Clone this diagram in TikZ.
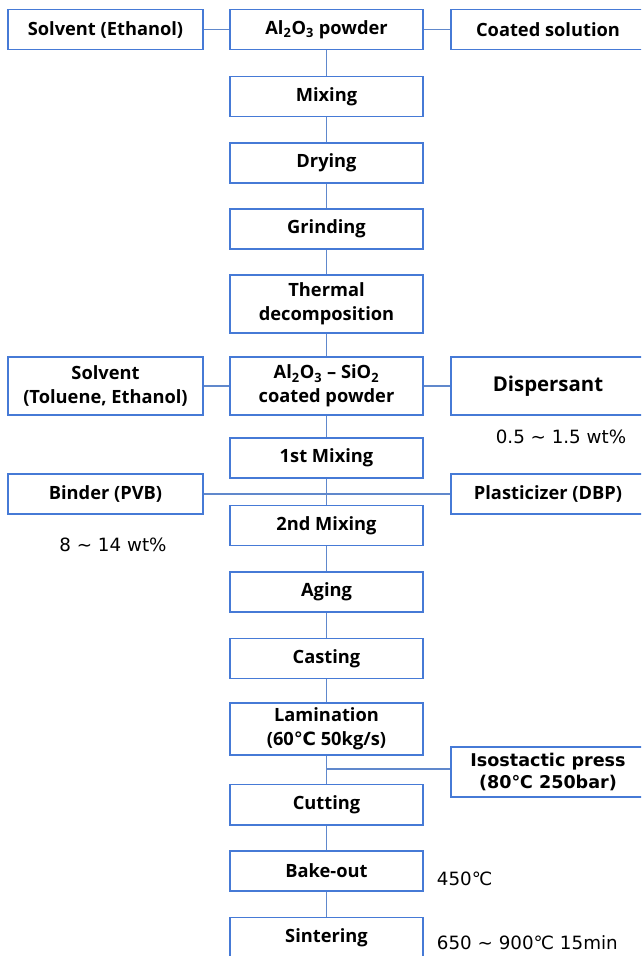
\documentclass[tikz,border=0pt]{standalone}
\usepackage{fontspec}
\setmainfont{Open Sans}
\newfontfamily\notefont{DejaVu Sans}
\usepackage{tikz}

\definecolor{boxblue}{RGB}{70,122,214}
\definecolor{lineblue}{RGB}{96,136,204}
\newcommand{\dgc}{{\notefont ℃}}

\begin{document}
\begin{tikzpicture}
  [ x=0.025cm, y=-0.025cm
  , stage/.style={rectangle, draw=boxblue, line width=1.4pt, minimum width=4.8cm, minimum height=1cm, align=center, font=\bfseries\fontsize{13}{17}\selectfont}
  , feed/.style={stage, minimum width=4.85cm}
  , tall/.style={minimum height=1.45cm}
  , note/.style={font=\notefont\fontsize{13}{15}\selectfont}
  , link/.style={draw=lineblue, line width=0.8pt}]
  \path [use as bounding box, clip] (0,0) rectangle (641,956);
  \node (0) at (105.5, 29.5) [feed] {Solvent (Ethanol)};
  \node (1) at (326.5, 29.5) [stage] {Al\textsubscript{2}O\textsubscript{3} powder};
  \node (2) at (548, 29.5) [feed] {Coated solution};
  \node (3) at (326.5, 96.5) [stage] {Mixing};
  \node (4) at (326.5, 163) [stage] {Drying};
  \node (5) at (326.5, 229) [stage] {Grinding};
  \node (6) at (326.5, 304) [stage, tall] {Thermal\\decomposition};
  \node (7) at (326.5, 386) [stage, tall] {Al\textsubscript{2}O\textsubscript{3} -- SiO\textsubscript{2}\\coated powder};
  \node (8) at (105.5, 386) [feed, tall] {Solvent\\(Toluene, Ethanol)};
  \node (9) at (548, 386) [feed, tall, font=\bfseries\fontsize{14.5}{17}\selectfont] {Dispersant};
  \node (10) at (326.5, 458) [stage] {1st Mixing};
  \node (11) at (105.5, 494) [feed] {Binder (PVB)};
  \node (12) at (548, 494) [feed] {Plasticizer (DBP)};
  \node (13) at (326.5, 525.5) [stage] {2nd Mixing};
  \node (14) at (326.5, 592) [stage] {Aging};
  \node (15) at (326.5, 658.5) [stage] {Casting};
  \node (16) at (326.5, 729) [stage, minimum height=1.25cm] {Lamination\\(60\dgc{} 50kg/s)};
  \node (17) at (326.5, 804.5) [stage] {Cutting};
  \node (18) at (548, 772) [feed, minimum height=1.25cm, font=\notefont\bfseries\fontsize{12.5}{16}\selectfont] {Isostactic press\\(80\dgc{} 250bar)};
  \node (19) at (326.5, 871) [stage] {Bake-out};
  \node (20) at (326.5, 937.5) [stage] {Sintering};
  \node (21) at (561, 437) [note] {0.5 ∼ 1.5 wt\%};
  \node (22) at (113, 545) [note] {8 ∼ 14 wt\%};
  \node (23) at (432, 879) [note, anchor=west] {450℃};
  \node (24) at (432, 943) [note, anchor=west] {650 ∼ 900℃ 15min};
  \draw [link] (0) -- (1);
  \draw [link] (1) -- (2);
  \draw [link] (1) -- (3);
  \draw [link] (3) -- (4);
  \draw [link] (4) -- (5);
  \draw [link] (5) -- (6);
  \draw [link] (6) -- (7);
  \draw [link] (8) -- (7);
  \draw [link] (7) -- (9);
  \draw [link] (7) -- (10);
  \draw [link] (11) -- (12);
  \draw [link] (10) -- (13);
  \draw [link] (13) -- (14);
  \draw [link] (14) -- (15);
  \draw [link] (15) -- (16);
  \draw [link] (16) -- (17);
  \draw [link] (18.west |- 0,769) -- (17.north |- 0,769);
  \draw [link] (17) -- (19);
  \draw [link] (19) -- (20);
\end{tikzpicture}
\end{document}
